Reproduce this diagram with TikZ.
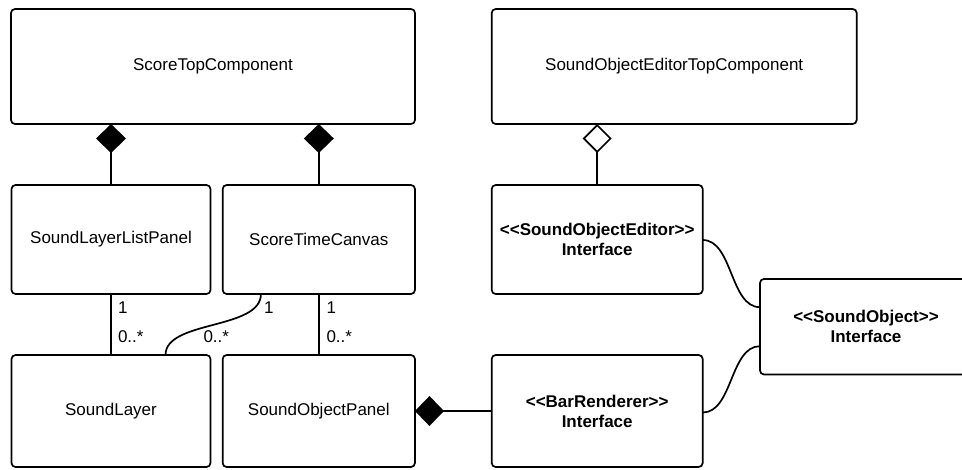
\documentclass[tikz,border=0pt]{standalone}
\usepackage{fontspec}
\setmainfont{Liberation Sans}[Ligatures=TeXOff]
\usetikzlibrary{arrows.meta,calc}
\newcommand{\lt}{\char60\relax}
\newcommand{\gt}{\char62\relax}
\begin{document}
\begin{tikzpicture}[x=1pt,y=-1pt,
  every node/.style={font=\fontsize{17}{20}\selectfont},
  cls/.style={draw=black, line width=1.7pt, rounded corners=4pt, inner sep=0pt, outer sep=0pt, align=center},
  conn/.style={draw=black, line width=1.7pt},
  mult/.style={anchor=west, inner sep=0pt, outer sep=0pt},
  comp/.style={{Diamond[length=29pt,width=30pt]}-},
  aggr/.style={{Diamond[length=29pt,width=29pt,fill=white]}-}
]
\useasboundingbox (0,0) rectangle (962,469);

\node[cls, minimum width=404pt, minimum height=115pt] (stc) at (213,66.5) {ScoreTopComponent};
\node[cls, minimum width=365pt, minimum height=115pt] (soetc) at (674.2,66.5) {SoundObjectEditorTopComponent};
\node[cls, minimum width=199pt, minimum height=109pt] (sllp) at (111,239.5) {SoundLayerListPanel};
\node[cls, minimum width=192.3pt, minimum height=109pt] (stcv) at (318.8,239.5) {ScoreTimeCanvas};
\node[cls, minimum width=211pt, minimum height=109pt] (soe) at (597.2,239.5) {\textbf{\lt\lt SoundObjectEditor\gt\gt}\\\textbf{Interface}};
\node[cls, minimum width=212pt, minimum height=95.5pt] (so) at (866,326.7) {\textbf{\lt\lt SoundObject\gt\gt}\\\textbf{Interface}};
\node[cls, minimum width=199pt, minimum height=112pt] (sl) at (111,411) {SoundLayer};
\node[cls, minimum width=192.3pt, minimum height=112pt] (sop) at (318.8,411) {SoundObjectPanel};
\node[cls, minimum width=211pt, minimum height=112pt] (br) at (597.2,411) {\textbf{\lt\lt BarRenderer\gt\gt}\\\textbf{Interface}};

% compositions / aggregation from top components
\draw[conn, comp] (stc.south -| sllp.north) -- (sllp.north);
\draw[conn, comp] (stc.south -| stcv.north) -- (stcv.north);
\draw[conn, aggr] (soetc.south -| soe.north) -- (soe.north);

% associations
\draw[conn] (sllp.south) -- (sl.north);
\draw[conn] ($(stcv.south west)+(38.3,0)$) .. controls +(0,36) and +(0,-35) .. ($(sl.north west)+(154,0)$);
\draw[conn] (stcv.south) -- (sop.south |- sop.north);

\node[mult] (m1a) at (118,307.7) {1};
\node[mult] (m1b) at (118,336.7) {0..*};
\node[mult] (m2a) at (264,307.7) {1};
\node[mult] (m2b) at (203.5,336.7) {0..*};
\node[mult] (m3a) at (326.5,307.7) {1};
\node[mult] (m3b) at (326.5,336.7) {0..*};

% bar renderer composition
\draw[conn, comp] (sop.east) -- (br.west);

% interfaces to SoundObject
\draw[conn] ($(soe.north east)+(0,55)$) .. controls +(30,0) and +(-30,0) .. ($(so.west)+(0,-19.5)$);
\draw[conn] ($(br.north east)+(0,57.5)$) .. controls +(30,0) and +(-30,0) .. ($(so.west)+(0,19.5)$);
\end{tikzpicture}
\end{document}
